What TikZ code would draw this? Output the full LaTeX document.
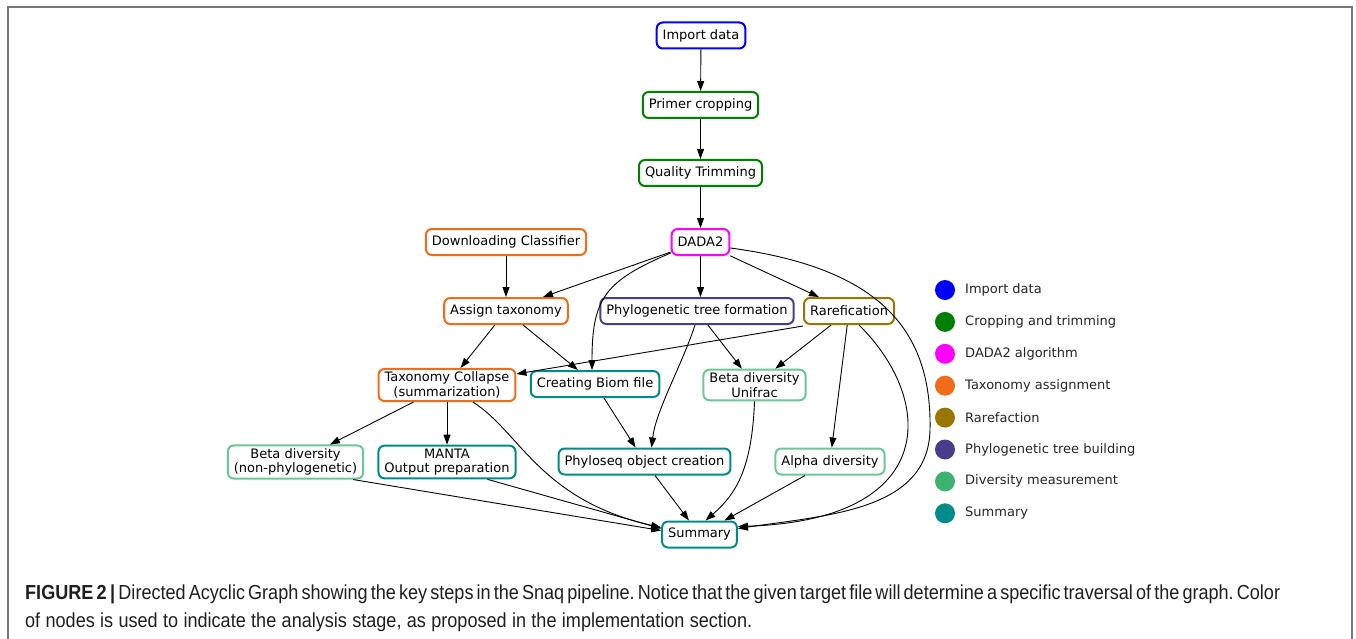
\documentclass[tikz,border=0pt]{standalone}
\usepackage{fontspec}
\setmainfont{DejaVu Sans}
\newfontfamily\capfont[FakeStretch=0.89]{Liberation Sans}
\usetikzlibrary{arrows.meta}
\definecolor{impcol}{RGB}{0,0,255}
\definecolor{cropcol}{RGB}{0,128,0}
\definecolor{dadacol}{RGB}{255,0,255}
\definecolor{taxcol}{RGB}{240,108,24}
\definecolor{rarcol}{RGB}{153,118,0}
\definecolor{phycol}{RGB}{72,61,139}
\definecolor{divcol}{RGB}{60,179,113}
\definecolor{sumcol}{RGB}{0,139,139}
\definecolor{framecol}{RGB}{120,120,120}

\begin{document}
\begin{tikzpicture}[x=1pt,y=-1pt,>={Triangle[length=10pt,width=7pt]},
  stage/.style={draw,line width=2pt,rounded corners=6pt,fill=white,minimum height=26pt,
    inner xsep=6pt,inner ysep=3pt,align=center,font=\fontsize{13}{14.5}\selectfont},
  edge/.style={->,line width=0.9pt},
  dot/.style={circle,inner sep=0pt,minimum size=20pt},
  key/.style={anchor=west,inner sep=0pt,font=\fontsize{13}{15}\selectfont,text=black!85},
  capline/.style={anchor=base west,inner sep=0pt,text=black!88,
    font=\capfont\fontsize{20.3}{22}\selectfont\frenchspacing}]
  \useasboundingbox (0,0) rectangle (1356,639);
  \draw[framecol,line width=2pt] (8,639) -- (8,7) -- (1352,7) -- (1352,639);

  \node[stage,draw=impcol] (imp) at (701,35.5) {Import data};
  \node[stage,draw=cropcol] (pc) at (700.5,105) {Primer cropping};
  \node[stage,draw=cropcol] (qt) at (700.5,173) {Quality Trimming};
  \node[stage,draw=dadacol] (dada) at (700.5,242) {DADA2};
  \node[stage,draw=taxcol] (dl) at (506,242) {Downloading Classifier};
  \node[stage,draw=taxcol] (asg) at (506,311) {Assign taxonomy};
  \node[stage,draw=phycol] (phy) at (697,311) {Phylogenetic tree formation};
  \node[stage,draw=rarcol] (rar) at (849,311) {Rarefication};
  \node[stage,draw=taxcol] (tc) at (447,385) {Taxonomy Collapse\\(summarization)};
  \node[stage,draw=sumcol] (bio) at (595,384) {Creating Biom file};
  \node[stage,draw=divcol!75] (uni) at (754.5,385) {Beta diversity\\Unifrac};
  \node[stage,draw=divcol!75] (bn) at (295.5,462) {Beta diversity\\(non-phylogenetic)};
  \node[stage,draw=sumcol] (manta) at (447,462) {MANTA\\Output preparation};
  \node[stage,draw=sumcol] (ps) at (644.5,461.5) {Phyloseq object creation};
  \node[stage,draw=divcol!75] (alpha) at (830,461.5) {Alpha diversity};
  \node[stage,draw=sumcol] (sum) at (699.5,534.5) {Summary};

  \draw[edge] (imp) -- (pc);
  \draw[edge] (pc) -- (qt);
  \draw[edge] (qt) -- (dada);
  \draw[edge] (dl) -- (asg);
  \draw[edge] ([yshift=-10pt]dada.west) -- ([xshift=37pt]asg.north);
  \draw[edge] ([yshift=-11pt]dada.west) to[out=203,in=90,looseness=1.3] ([xshift=-3pt]bio.north);
  \draw[edge] (dada.south) -- (dada.south |- phy.north);
  \draw[edge] (dada) -- (rar);
  \draw[edge] ([yshift=-6pt]dada.east) .. controls (880,268) and (932,330) .. (930,430)
    .. controls (928,510) and (830,515) .. ([yshift=6pt]sum.east);
  \draw[edge] (asg) -- (tc);
  \draw[edge] (asg) -- (bio);
  \draw[edge] ([yshift=-1pt]rar.south west) -- ([yshift=-6pt]tc.north east);
  \draw[edge] (phy) -- (uni);
  \draw[edge] ([xshift=-2pt]phy.south) .. controls (682,365) and (656,410) .. ([xshift=7pt]ps.north);
  \draw[edge] (rar) -- (uni);
  \draw[edge] (rar) -- (alpha);
  \draw[edge] ([xshift=10pt]rar.south) .. controls (935,400) and (940,520) .. ([yshift=8pt]sum.east);
  \draw[edge] (tc) -- (bn);
  \draw[edge] (tc) -- (manta);
  \draw[edge] ([xshift=26pt]tc.south) .. controls (520,432) and (540,500) .. ([yshift=7pt]sum.west);
  \draw[edge] (bio) -- (ps);
  \draw[edge] ([xshift=-11pt]bn.south east) -- ([yshift=4pt]sum.west);
  \draw[edge] ([xshift=-29pt]manta.south east) -- ([yshift=6pt]sum.west);
  \draw[edge] (ps) -- (sum);
  \draw[edge] (uni.south) .. controls (752,470) and (735,495) .. ([xshift=6pt]sum.north);
  \draw[edge] (alpha) -- (sum);

  \foreach \c/\t [count=\i from 0] in {impcol/Import data,cropcol/Cropping and trimming,
      dadacol/DADA2 algorithm,taxcol/Taxonomy assignment,rarcol/Rarefaction,
      phycol/Phylogenetic tree building,divcol/Diversity measurement,sumcol/Summary} {
    \node[dot,fill=\c] (k\i) at (945,{290+31.9*\i}) {};
    \node[key] (kl\i) at (965,{290+31.9*\i}) {\t};
  }

  \node[capline] (cap1) at (25,599) {\spaceskip=3.2pt plus 3pt minus 1pt\makebox[1255pt][s]{{\bfseries FIGURE 2\,|}\,Directed Acyclic Graph showing the key steps in the Snaq pipeline. Notice that the given target file will determine a specific traversal of the graph. Color}};
  \node[capline] (cap2) at (25,627) {\makebox[727pt][s]{of nodes is used to indicate the analysis stage, as proposed in the implementation section.}};
\end{tikzpicture}
\end{document}
